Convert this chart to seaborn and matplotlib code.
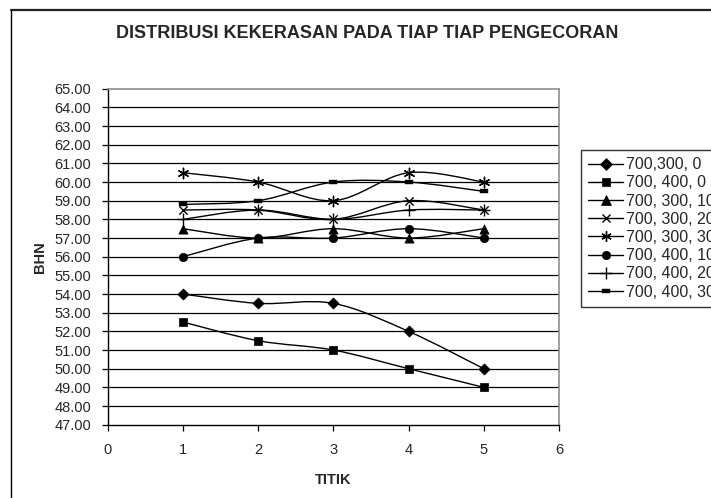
import numpy as np
import pandas as pd
import matplotlib
matplotlib.use("Agg")
import matplotlib.pyplot as plt
from matplotlib.path import Path
from matplotlib.patches import PathPatch
from matplotlib.lines import Line2D
import seaborn as sns

# data
titik = [1, 2, 3, 4, 5]
seri = ["700,300, 0", "700, 400, 0", "700, 300, 10", "700, 300, 20",
        "700, 300, 30", "700, 400, 10", "700, 400, 20", "700, 400, 30"]
bhn_700_300_0 = [54.0, 53.5, 53.5, 52.0, 50.0]
bhn_700_400_0 = [52.5, 51.5, 51.0, 50.0, 49.0]
bhn_700_300_10 = [57.5, 57.0, 57.5, 57.0, 57.5]
bhn_700_300_20 = [58.5, 58.5, 58.0, 59.0, 58.5]
bhn_700_300_30 = [60.5, 60.0, 59.0, 60.5, 60.0]
bhn_700_400_10 = [56.0, 57.0, 57.0, 57.5, 57.0]
bhn_700_400_20 = [58.0, 58.5, 58.0, 58.5, 58.5]
bhn_700_400_30 = [58.8, 59.0, 60.0, 60.0, 59.5]
y_ticks = np.arange(47, 66, 1)
x_ticks = [0, 1, 2, 3, 4, 5, 6]

semua = [bhn_700_300_0, bhn_700_400_0, bhn_700_300_10, bhn_700_300_20,
         bhn_700_300_30, bhn_700_400_10, bhn_700_400_20, bhn_700_400_30]

# marker style per series (marker, size in pt^2, edge width)
dash = [(-1, -0.45), (1, -0.45), (1, 0.45), (-1, 0.45), (-1, -0.45)]
gaya = [("D", 32, 0.5), ("s", 34, 0.5), ("^", 44, 0.5), ("x", 36, 1.0),
        ((6, 2, 0), 56, 1.0), ("o", 36, 0.5), ("+", 64, 1.0), (dash, 28, 0.3)]

sns.set_style("white")
plt.rcParams["font.family"] = ["Liberation Sans", "DejaVu Sans"]

fig = plt.figure(figsize=(7.11, 4.98), dpi=100)
ax = fig.add_axes([107.7 / 711, 1 - 424.7 / 498, (559 - 107.7) / 711, (424.7 - 88.7) / 498])

# gridlines first so lines sit on top
for yv in y_ticks[1:-1]:
    ax.axhline(yv, color="black", lw=0.9, zorder=1)


def smooth_path(xs, ys):
    # excel style smoothed line (cardinal bezier through the points)
    pts = np.column_stack([xs, ys]).astype(float)
    n = len(pts)
    verts = [pts[0]]
    codes = [Path.MOVETO]
    for i in range(n - 1):
        p0 = pts[i - 1] if i > 0 else pts[i]
        p1 = pts[i]
        p2 = pts[i + 1]
        p3 = pts[i + 2] if i + 2 < n else pts[i + 1]
        c1 = p1 + (p2 - p0) / 6
        c2 = p2 - (p3 - p1) / 6
        verts += [c1, c2, p2]
        codes += [Path.CURVE4] * 3
    return Path(verts, codes)


for nama, vals, (m, s, lw) in zip(seri, semua, gaya):
    ax.add_patch(PathPatch(smooth_path(titik, vals), fill=False,
                           edgecolor="black", lw=1.0, zorder=2))
    sns.scatterplot(x=titik, y=vals, marker=m, s=s, color="black",
                    edgecolor="black", linewidth=lw, ax=ax, zorder=3, legend=False)

ax.set_xlim(0, 6)
ax.set_ylim(47, 65)
ax.set_xticks(x_ticks)
ax.set_yticks(y_ticks)
ax.set_yticklabels([f"{v:.2f}" for v in y_ticks])
ax.tick_params(axis="both", direction="out", length=4, width=0.9, color="black",
               labelsize=10.5, left=True, bottom=True)
ax.tick_params(axis="y", pad=8)
ax.tick_params(axis="x", pad=9)

for side in ["left", "bottom"]:
    ax.spines[side].set_color("black")
    ax.spines[side].set_linewidth(1.0)
for side in ["right", "top"]:
    ax.spines[side].set_color("#8c8c8c")
    ax.spines[side].set_linewidth(1.2)

ax.set_xlabel("TITIK", fontsize=10.5, fontweight="bold", labelpad=12)
ax.set_ylabel("BHN", fontsize=10.5, fontweight="bold", labelpad=5)
fig.text(367 / 711, 1 - 33 / 498, "DISTRIBUSI KEKERASAN PADA TIAP TIAP PENGECORAN",
         ha="center", va="center", fontsize=13, fontweight="bold")

# legend built by hand: line + marker
handles = []
for nama, (m, s, lw) in zip(seri, gaya):
    handles.append(Line2D([0], [0], color="black", lw=1.0, marker=m,
                          markersize=np.sqrt(s), markerfacecolor="black",
                          markeredgecolor="black", markeredgewidth=lw, label=nama))
leg = fig.legend(handles=handles, loc="upper left", bbox_to_anchor=(581 / 711, 1 - 150 / 498),
                 frameon=True, fontsize=11.5, handlelength=2.2, handletextpad=0.15,
                 labelspacing=0.2, borderpad=0.45, fancybox=False, borderaxespad=0)
leg.get_frame().set_edgecolor("black")
leg.get_frame().set_linewidth(1.0)

# chart frame (cut by the screenshot on the right and bottom)
fig.add_artist(Line2D([11 / 711, 1.0], [1 - 10 / 498, 1 - 10 / 498], color="#222222", lw=1.6))
fig.add_artist(Line2D([11 / 711, 11 / 711], [0, 1 - 10 / 498], color="black", lw=1.0))

fig.savefig("out.png", dpi=100)
